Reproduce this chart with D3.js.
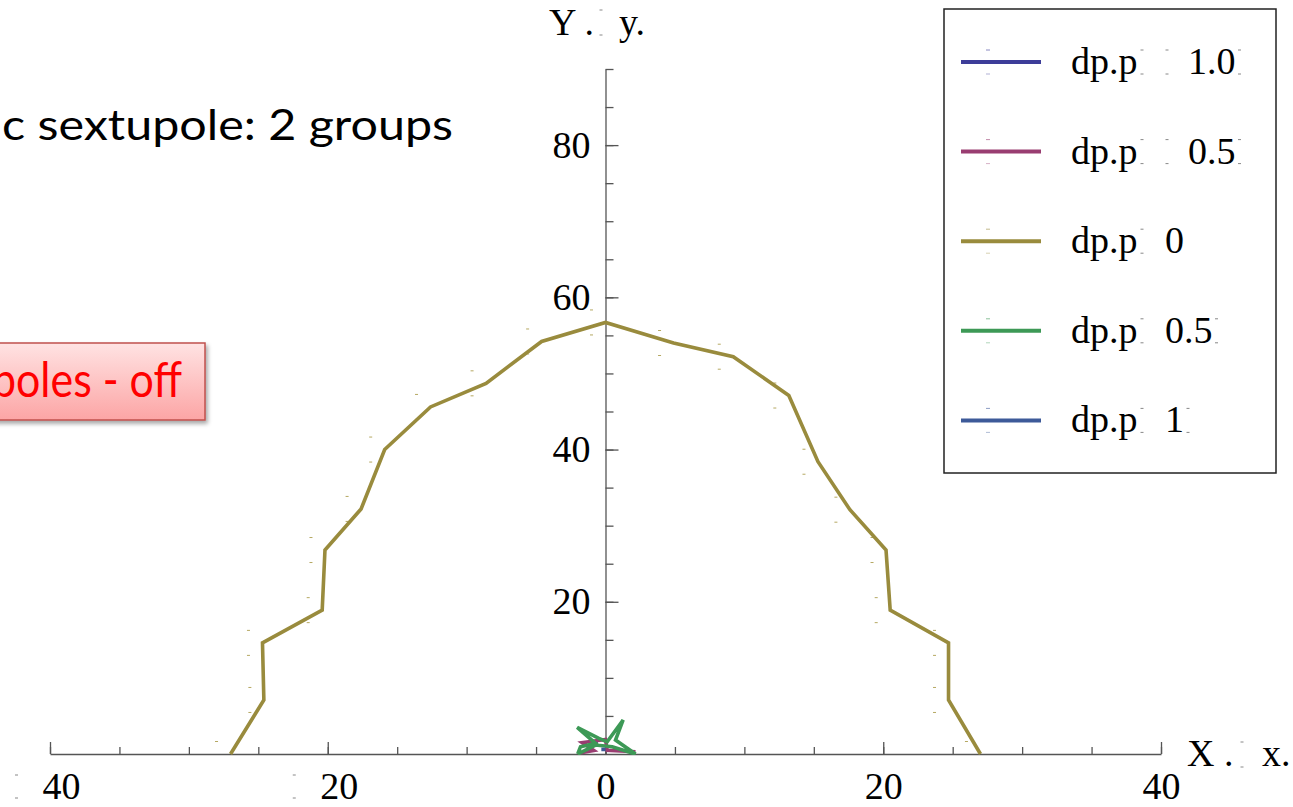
<!DOCTYPE html>
<html>
<head>
<meta charset="utf-8">
<script src="https://cdn.jsdelivr.net/npm/d3@7"></script>
<style>
body{margin:0;background:#fff}
svg{display:block}
</style>
</head>
<body>
<div id="chart"></div>
<script>
const xMajorTicks = [-40,-20,0,20,40]
const xMinorTicks = [-40,-35,-30,-25,-20,-15,-10,-5,0,5,10,15,20,25,30,35,40]
const yMajorTicks = [20,40,60,80]
const yMinorTicks = [5,10,15,20,25,30,35,40,45,50,55,60,65,70,75,80,85,90]

const legendNames = ["dp.p","dp.p","dp.p","dp.p","dp.p"]
const legendValues = ["1.0","0.5","0","0.5","1"]
const legendNegative = [true,true,false,false,false]
const legendTrailing = [true,true,false,true,true]
const seriesColors = ["#3d3d99","#993d71","#998b3d","#3d9956","#3d5a99"]

// dp.p = -1.0
const dpM10X = [-0.85,-0.55]
const dpM10Y = [1.4,1.4]
// dp.p = -0.5
const dpM05X = [-2.0,-0.84,-1.68,0.0,0.12,2.16]
const dpM05Y = [0.1,0.45,1.5,1.9,0.5,0.3]
// dp.p = 0
const dp0X = [-27.0,-24.6,-24.7,-20.4,-20.2,-17.6,-15.9,-12.6,-8.6,-4.6,0.0,4.9,9.2,13.2,15.3,17.6,20.2,20.5,24.7,24.7,27.0]
const dp0Y = [0,7.1,14.6,18.9,26.8,32.2,40.0,45.6,48.7,54.2,56.7,54.0,52.2,47.1,38.4,32.1,26.8,18.9,14.6,7.1,0]
// dp.p = 0.5
const dpP05X = [-2.0,-1.8,-0.72,-2.04,-0.48,0.12,1.27,0.72,2.16,0.48,-0.72,-2.0]
const dpP05Y = [0,0.96,1.4,3.5,2.06,1.6,4.47,1.84,0,0.96,1.18,0]
// dp.p = 1
const dpP10X = [-0.3,0.0]
const dpP10Y = [0.6,0.6]

const FONT = "'Liberation Serif','Times New Roman',serif"
const SANS = "Lato,'Open Sans',sans-serif"

drawChart()

function drawChart(){
    const canvas = createCanvas()
    const svg = addSvg("#chart",canvas)
    const sc = addScales()

    addSlideText(svg)
    addAxes(svg,sc)
    addAxisLabels(svg)
    addSeries(svg,sc)
    addLegend(svg)
}

function createCanvas(){
    return {width:1293,height:807}
}

function addSvg(id,canvas){
    return d3.select(id).append("svg").attr("width",canvas.width).attr("height",canvas.height)
}

function addScales(){
    const x = d3.scaleLinear().domain([-40,40]).range([50,1161])
    const y = d3.scaleLinear().domain([0,90]).range([754,69])
    return {x,y}
}

function glyphMarks(g,x,y1,y2){
    g.append("line").attr("x1",x-1.5).attr("x2",x+1.5).attr("y1",y1).attr("y2",y1)
     .attr("stroke","#888").attr("stroke-width",1)
    g.append("line").attr("x1",x-1.5).attr("x2",x+1.5).attr("y1",y2).attr("y2",y2)
     .attr("stroke","#888").attr("stroke-width",1)
}

function addSlideText(svg){
    svg.append("text").attr("x",2).attr("y",140)
     .attr("font-family",SANS).attr("font-size",43).attr("fill","#000")
     .attr("textLength",451).attr("lengthAdjust","spacingAndGlyphs")
     .text("c sextupole: 2 groups")

    const defs = svg.append("defs")
    const grad = defs.append("linearGradient").attr("id","boxGrad")
     .attr("x1",0).attr("y1",0).attr("x2",0).attr("y2",1)
    grad.append("stop").attr("offset","0%").attr("stop-color","#ffe3e3")
    grad.append("stop").attr("offset","100%").attr("stop-color","#fca5a5")

    const sh = defs.append("filter").attr("id","shadow").attr("x","-20%").attr("y","-20%")
     .attr("width","150%").attr("height","160%")
    sh.append("feDropShadow").attr("dx",2).attr("dy",3).attr("stdDeviation",2)
     .attr("flood-color","#000").attr("flood-opacity",0.35)

    svg.append("rect").attr("x",-10).attr("y",343).attr("width",215).attr("height",77)
     .attr("fill","url(#boxGrad)").attr("stroke","#c0504d").attr("stroke-width",1.5)
     .attr("filter","url(#shadow)")

    svg.append("text").attr("x",-8).attr("y",397)
     .attr("font-family",SANS).attr("font-size",48).attr("fill","#ff0000")
     .attr("textLength",190).attr("lengthAdjust","spacingAndGlyphs")
     .text("poles - off")
}

function styleAxis(g){
    g.select(".domain").attr("stroke","#555").attr("stroke-width",1.3)
    g.selectAll(".tick line").attr("stroke","#555").attr("stroke-width",1.3)
    g.selectAll(".tick text").attr("font-family",FONT).attr("font-size",38).attr("fill","#000")
}

function addAxes(svg,sc){
    const y0 = sc.y(0), x0 = sc.x(0)

    const xMinor = svg.append("g").attr("transform",`translate(0,${y0})`)
     .call(d3.axisBottom(sc.x).tickValues(xMinorTicks).tickSize(-7).tickSizeOuter(0).tickFormat(""))
    styleAxis(xMinor)

    const xMajor = svg.append("g").attr("transform",`translate(0,${y0})`)
     .call(d3.axisBottom(sc.x).tickValues(xMajorTicks).tickSize(-12).tickSizeOuter(0)
     .tickPadding(18).tickFormat(d => Math.abs(d)))
    styleAxis(xMajor)
    xMajor.select(".domain").remove()
    xMajor.selectAll(".tick text").attr("dy","0.71em").attr("x",d => d < 0 ? 11 : 0)
    xMajor.selectAll(".tick").filter(d => d < 0).each(function(){
        glyphMarks(d3.select(this),-34,21,44)
    })

    const yMinor = svg.append("g").attr("transform",`translate(${x0},0)`)
     .call(d3.axisLeft(sc.y).tickValues(yMinorTicks).tickSize(-8).tickSizeOuter(0).tickFormat(""))
    styleAxis(yMinor)

    const yMajor = svg.append("g").attr("transform",`translate(${x0},0)`)
     .call(d3.axisLeft(sc.y).tickValues(yMajorTicks).tickSize(-13).tickSizeOuter(0).tickPadding(15))
    styleAxis(yMajor)
    yMajor.select(".domain").remove()
}

function addAxisLabels(svg){
    svg.append("text").attr("x",549).attr("y",35).attr("font-family",FONT).attr("font-size",38)
     .text("Y .")
    glyphMarks(svg,601,10,35)
    svg.append("text").attr("x",619).attr("y",35).attr("font-family",FONT).attr("font-size",38)
     .text("y.")

    svg.append("text").attr("x",1187).attr("y",766).attr("font-family",FONT).attr("font-size",38)
     .text("X .")
    glyphMarks(svg,1242,742,767)
    svg.append("text").attr("x",1262).attr("y",766).attr("font-family",FONT).attr("font-size",38)
     .text("x.")
}

function addSeries(svg,sc){
    svg.append("clipPath").attr("id","plotClip").append("rect")
     .attr("x",0).attr("y",0).attr("width",1293).attr("height",sc.y(0)+1)

    const all = [
        d3.zip(dpM10X,dpM10Y),
        d3.zip(dpM05X,dpM05Y),
        d3.zip(dp0X,dp0Y),
        d3.zip(dpP05X,dpP05Y),
        d3.zip(dpP10X,dpP10Y)
    ]
    const line = d3.line().x(d => sc.x(d[0])).y(d => sc.y(d[1]))
    const g = svg.append("g").attr("clip-path","url(#plotClip)")

    // faint point markers next to the olive curve
    dp0X.forEach((v,i) => {
        const px = sc.x(v) - 14, py = sc.y(dp0Y[i])
        ;[py - 12.5, py + 12.5].forEach(yy => {
            g.append("line").attr("x1",px-1.5).attr("x2",px+1.5).attr("y1",yy).attr("y2",yy)
             .attr("stroke","#b5a862").attr("stroke-width",1)
        })
    })

    all.forEach((data,i) => {
        g.append("path").datum(data).attr("fill","none")
         .attr("stroke",seriesColors[i]).attr("stroke-width",3.6)
         .attr("stroke-linejoin","miter").attr("d",line)
    })
}

function addLegend(svg){
    const lg = svg.append("g")
    lg.append("rect").attr("x",944).attr("y",9).attr("width",332).attr("height",464)
     .attr("fill","#fff").attr("stroke","#222").attr("stroke-width",1.5)

    legendNames.forEach((name,i) => {
        const cy = 62 + i*89.6
        lg.append("line").attr("x1",961).attr("x2",1041).attr("y1",cy).attr("y2",cy)
         .attr("stroke",seriesColors[i]).attr("stroke-width",4)
        lg.append("line").attr("x1",986).attr("x2",990).attr("y1",cy-12).attr("y2",cy-12)
         .attr("stroke",seriesColors[i]).attr("stroke-opacity",0.6)
        lg.append("line").attr("x1",986).attr("x2",990).attr("y1",cy+12).attr("y2",cy+12)
         .attr("stroke",seriesColors[i]).attr("stroke-opacity",0.4)

        lg.append("text").attr("x",1071).attr("y",cy+12).attr("font-family",FONT)
         .attr("font-size",38).attr("fill","#000").text(name)
        glyphMarks(lg,1142,cy-12,cy+12)

        let vx = 1165
        if(legendNegative[i]){
            glyphMarks(lg,1167,cy-12,cy+12)
            vx = 1188
        }
        const t = lg.append("text").attr("x",vx).attr("y",cy+12).attr("font-family",FONT)
         .attr("font-size",38).attr("fill","#000").text(legendValues[i])
        if(legendTrailing[i]){
            const w = t.node().getComputedTextLength()
            glyphMarks(lg,vx+w+4,cy-12,cy+12)
        }
    })
}
</script>
</body>
</html>
